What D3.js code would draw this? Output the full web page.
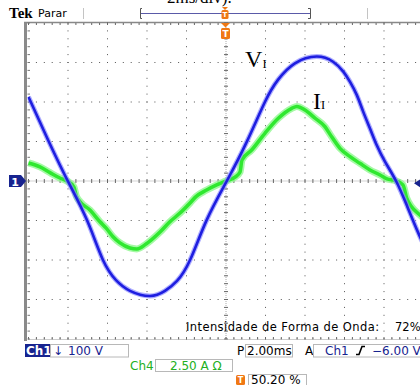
<!DOCTYPE html>
<html lang="en">
<head>
<meta charset="utf-8"/>
<title>Tek scope - VI / II</title>
<script src="https://cdn.jsdelivr.net/npm/d3@7"></script>
<style>
  body { margin: 0; background: #fff; }
  svg { display: block; font-family: "DejaVu Sans", sans-serif; }
</style>
</head>
<body>
<svg id="scope" width="420" height="385"></svg>
<script>
// Ch1 voltage (V) vs time (ms)
const timeV = [-10.0, -9.01, -8.01, -7.04, -6.23, -5.57, -4.86, -3.85, -3.09, -2.48, -1.82, -0.98, 0.04, 1.05, 1.97, 2.63, 3.49, 4.59, 5.42, 5.94, 6.28, 6.62, 6.95, 7.29, 7.63, 8.05, 8.61, 9.15, 9.82, 10.0]
const volts = [213, 104, 0, -99, -200, -251, -278, -291, -278, -253, -200, -99, 0, 99, 200, 256, 298, 315, 302, 277, 251, 218, 175, 133, 91, 49, 0, -61, -141, -155]

// Ch4 current (A) vs time (ms)
const timeI = [-10.0, -9.42, -8.91, -8.41, -8.05, -7.70, -7.58, -7.39, -6.89, -6.38, -6.08, -5.72, -5.37, -4.86, -4.51, -4.05, -3.34, -2.84, -2.33, -1.82, -1.52, -0.98, -0.47, 0.0, 0.46, 0.71, 0.81, 1.30, 1.97, 2.65, 3.33, 3.59, 4.00, 4.51, 5.01, 5.27, 5.77, 6.28, 6.78, 7.29, 7.80, 8.15, 8.56, 8.96, 9.15, 9.82, 10.0]
const amps = [1.14, 0.89, 0.53, 0.19, 0.0, -0.38, -0.95, -1.31, -1.84, -2.58, -2.97, -3.53, -3.92, -4.24, -4.30, -3.99, -3.23, -2.58, -2.03, -1.39, -0.99, -0.57, -0.25, 0.0, 0.25, 0.57, 1.33, 1.96, 3.02, 3.97, 4.60, 4.72, 4.49, 3.97, 3.44, 2.95, 2.07, 1.54, 1.12, 0.70, 0.38, 0.13, 0.03, -0.25, -1.08, -2.15, -2.35]

// settings shown on screen
const ch1Scale = '100 V'
const ch4Scale = '2.50 A \u03a9'
const timebase = '2.00ms'
const trigLevel = '\u22126.00 V'
const trigPos = '50.20 %'
const measLabel = 'Intensidade de Forma de Onda:'
const measValue = '72%'

const svg = d3.select('#scope')

const L = 28.5, R = 423.5, T = 23, B = 339
const x = d3.scaleLinear().domain([-10, 10]).range([L, R])
const yV = d3.scaleLinear().domain([-400, 400]).range([B, T])
const yI = d3.scaleLinear().domain([-10, 10]).range([B, T])

const navy = '#17238f'
const orange = '#f07814'
const green = '#22b022'

// caption cut off at the top
svg.append('text').attr('x', 167).attr('y', 3)
  .style('font', '17px "Liberation Serif"').text('2ms/div).')

// header
svg.append('text').attr('x', 9).attr('y', 18)
  .style('font', 'bold 15px "Liberation Serif"').text('Tek')
svg.append('text').attr('x', 38).attr('y', 17)
  .style('font-size', '11px').text('Parar')

const hdr = svg.append('g')
hdr.selectAll('line.mark').data([83, 367]).enter().append('line')
  .attr('x1', d => d + 0.5).attr('x2', d => d + 0.5).attr('y1', 8).attr('y2', 19)
  .attr('stroke', '#c4c4c4')
hdr.append('line').attr('x1', 140).attr('x2', 310).attr('y1', 13.5).attr('y2', 13.5)
  .attr('stroke', '#5a5aa8')
hdr.selectAll('path.br').data([[140, 1], [310, -1]]).enter().append('path')
  .attr('d', d => `M${d[0] + 2 * d[1]},8.5 H${d[0] + 0.5} V18.5 H${d[0] + 2 * d[1]}`)
  .attr('fill', 'none').attr('stroke', '#555')

function tIcon(g, cx, y, w, h) {
  g.append('rect').attr('x', cx - w / 2).attr('y', y).attr('width', w).attr('height', h)
    .attr('rx', 1.5).attr('fill', orange)
  g.append('text').attr('x', cx).attr('y', y + h - 2).attr('text-anchor', 'middle')
    .style('font', `bold ${h - 2}px "DejaVu Sans"`).attr('fill', '#fff').text('T')
}
hdr.append('path').attr('d', 'M222,7 h6 l-3,3 z').attr('fill', orange)
tIcon(hdr, 225, 10, 7, 9)

// graticule
const grid = svg.append('g')
grid.append('line').attr('x1', 25.5).attr('x2', 25.5).attr('y1', T - 1).attr('y2', B + 2)
  .attr('stroke', '#8a8a8a').attr('stroke-width', 3)
grid.append('line').attr('x1', 24).attr('x2', 420).attr('y1', T - 0.5).attr('y2', T - 0.5)
  .attr('stroke', '#888').attr('stroke-width', 1.5)

const divs = d3.range(-10, 10.01, 2)
const minors = d3.range(-10, 10.01, 0.4)
const vDivs = d3.range(-400, 400.01, 100)
const vMinors = d3.range(-400, 400.01, 20)

// dotted division lines
divs.filter(d => d !== 0 && d !== -10).forEach(d => {
  grid.selectAll(null).data(vMinors).enter().append('rect')
    .attr('x', x(d) - 0.5).attr('y', v => yV(v) - 0.5).attr('width', 1).attr('height', 1)
    .attr('fill', '#555')
})
vDivs.filter(v => v !== 0 && v !== 400).forEach(v => {
  grid.selectAll(null).data(minors).enter().append('rect')
    .attr('x', d => x(d) - 0.5).attr('y', yV(v) - 0.5).attr('width', 1).attr('height', 1)
    .attr('fill', '#555')
})

// centre cross with minor ticks
grid.append('line').attr('x1', L).attr('x2', R).attr('y1', yV(0)).attr('y2', yV(0))
  .attr('stroke', '#aaa').attr('stroke-dasharray', '1,1')
grid.append('line').attr('x1', x(0)).attr('x2', x(0)).attr('y1', T).attr('y2', B)
  .attr('stroke', '#aaa').attr('stroke-dasharray', '1,1')
grid.selectAll(null).data(minors).enter().append('line')
  .attr('x1', d => x(d)).attr('x2', d => x(d))
  .attr('y1', yV(0) - 2).attr('y2', yV(0) + 2).attr('stroke', '#666')
grid.selectAll(null).data(vMinors).enter().append('line')
  .attr('y1', v => yV(v)).attr('y2', v => yV(v))
  .attr('x1', x(0) - 2).attr('x2', x(0) + 2).attr('stroke', '#666')

// edge ticks
grid.selectAll(null).data(minors).enter().append('line')
  .attr('x1', d => x(d)).attr('x2', d => x(d)).attr('y1', T).attr('y2', T + 2)
  .attr('stroke', '#666')
grid.selectAll(null).data(minors).enter().append('line')
  .attr('x1', d => x(d)).attr('x2', d => x(d)).attr('y1', B - 2).attr('y2', B)
  .attr('stroke', '#666')
grid.append('line').attr('x1', L).attr('x2', R).attr('y1', B + 0.5).attr('y2', B + 0.5)
  .attr('stroke', '#999').attr('stroke-dasharray', '1,1')
grid.selectAll(null).data(vMinors).enter().append('line')
  .attr('y1', v => yV(v)).attr('y2', v => yV(v)).attr('x1', L - 1).attr('x2', L + 1.5)
  .attr('stroke', '#777')

// traces
svg.append('clipPath').attr('id', 'plot').append('rect')
  .attr('x', L - 1).attr('y', T).attr('width', R - L).attr('height', B - T)
const traces = svg.append('g').attr('clip-path', 'url(#plot)')

const lineI = d3.line().x(d => x(d[0])).y(d => yI(d[1])).curve(d3.curveMonotoneX)
const lineV = d3.line().x(d => x(d[0])).y(d => yV(d[1])).curve(d3.curveNatural)
const ptsI = d3.zip(timeI, amps)
const ptsV = d3.zip(timeV, volts)

traces.append('path').attr('d', lineI(ptsI)).attr('fill', 'none')
  .attr('stroke', '#8ff78f').attr('stroke-width', 7).attr('opacity', 0.8)
traces.append('path').attr('d', lineI(ptsI)).attr('fill', 'none')
  .attr('stroke', '#2fe82f').attr('stroke-width', 3.5)
traces.append('path').attr('d', lineV(ptsV)).attr('fill', 'none')
  .attr('stroke', '#8c8cff').attr('stroke-width', 5).attr('opacity', 0.7)
traces.append('path').attr('d', lineV(ptsV)).attr('fill', 'none')
  .attr('stroke', '#1e1ee0').attr('stroke-width', 2.6)

// trace labels
const lab = svg.append('g').style('font-family', '"Liberation Serif", serif')
lab.append('text').attr('x', 245).attr('y', 67).style('font-size', '24px').text('V')
lab.append('text').attr('x', 262.5).attr('y', 67.5).style('font-size', '12.5px').text('I')
lab.append('text').attr('x', 313).attr('y', 108.5).style('font-size', '24px').text('I')
lab.append('text').attr('x', 321).attr('y', 108.5).style('font-size', '12.5px').text('I')

// markers: trigger position, ch1 ground, trigger level
svg.append('path').attr('d', 'M221,23 h9 l-4.5,4.5 z').attr('fill', orange)
tIcon(svg, 225.5, 28, 9, 11)
svg.append('path').attr('d', `M9,${yV(0) - 6} h12 l5,6 l-5,6 h-12 z`).attr('fill', navy)
svg.append('text').attr('x', 15).attr('y', yV(0) + 4.5).attr('text-anchor', 'middle')
  .style('font', 'bold 11px "DejaVu Sans"').attr('fill', '#fff').text('1')
svg.append('path').attr('d', `M414,${yV(-6)} l7,-4.5 v9 z`).attr('fill', navy)

// measurement readout
svg.append('text').attr('x', 186).attr('y', 331).style('font-size', '11.5px')
  .attr('textLength', 193).attr('lengthAdjust', 'spacing').text(measLabel)
svg.append('text').attr('x', 395).attr('y', 331).style('font-size', '11.5px').text(measValue)

// status bar
const st = svg.append('g').style('font-size', '12px')
function box(xx, yy, w, h) {
  st.append('rect').attr('x', xx + 0.5).attr('y', yy + 0.5).attr('width', w).attr('height', h)
    .attr('fill', 'none').attr('stroke', '#b8b8b8')
}
st.append('rect').attr('x', 25).attr('y', 344).attr('width', 25).attr('height', 13).attr('fill', navy)
st.append('text').attr('x', 26).attr('y', 355).attr('fill', '#fff').style('font-weight', 'bold').text('Ch1')
box(50, 344, 78, 12.5)
st.append('text').attr('x', 53).attr('y', 355).attr('fill', navy).text('\u2193')
st.append('text').attr('x', 68).attr('y', 355).attr('fill', navy).text(ch1Scale)

st.append('text').attr('x', 237).attr('y', 355).text('P')
box(245, 344, 47, 12.5)
st.append('text').attr('x', 247).attr('y', 355).text(timebase)
st.append('text').attr('x', 305).attr('y', 355).text('A')
box(313, 344, 110, 12.5)
st.append('text').attr('x', 325).attr('y', 355).attr('fill', navy).text('Ch1')
st.append('path').attr('d', 'M356,354.5 h3 l3,-8 h3').attr('fill', 'none')
  .attr('stroke', '#000').attr('stroke-width', 1.6)
st.append('text').attr('x', 372).attr('y', 355).attr('fill', navy).text(trigLevel)

st.append('text').attr('x', 130).attr('y', 370).attr('fill', green).text('Ch4')
box(155, 359, 77, 12)
st.append('text').attr('x', 170).attr('y', 370).attr('fill', green).text(ch4Scale)

tIcon(st, 240.5, 375, 9, 10)
box(248, 374, 58, 12)
st.append('text').attr('x', 251).attr('y', 384).text(trigPos)
</script>
</body>
</html>
